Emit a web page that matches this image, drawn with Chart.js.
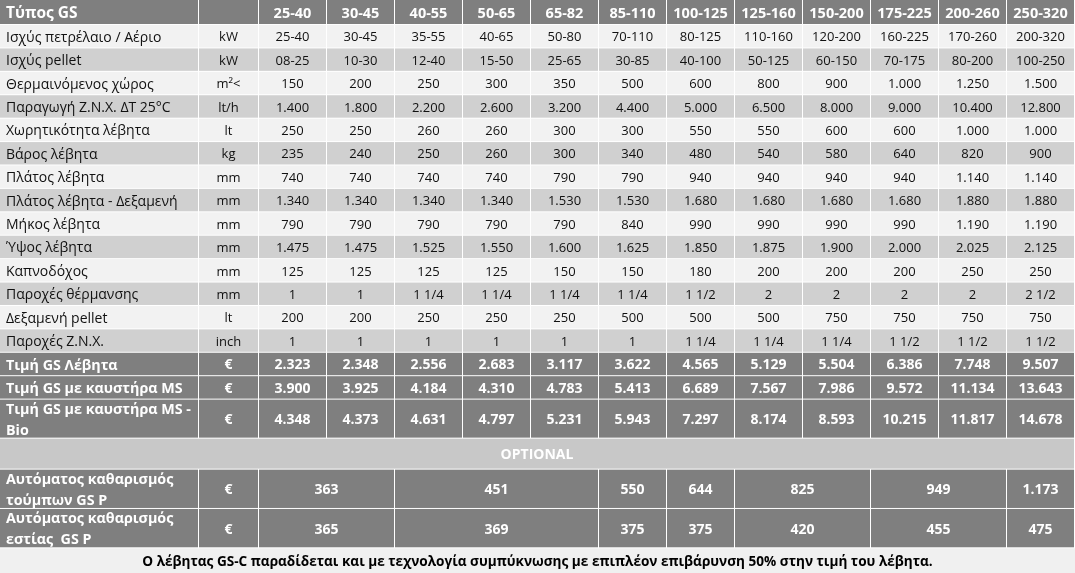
<!DOCTYPE html>
<html>
<head>
<meta charset="utf-8">
<title>GS</title>
<script src="https://cdn.jsdelivr.net/npm/chart.js@4.4.1/dist/chart.umd.min.js"></script>
<style>
  html, body { margin: 0; padding: 0; background: #ffffff; }
  #wrap { width: 1075px; height: 573px; }
</style>
</head>
<body>
<div id="wrap"><canvas id="specTable" width="1075" height="573"></canvas></div>
<script>
// ---- data read from the price list ----
const headerLabel = 'Τύπος GS';
const models = ['25-40', '30-45', '40-55', '50-65', '65-82', '85-110', '100-125', '125-160', '150-200', '175-225', '200-260', '250-320'];

const specLabels = [
    'Ισχύς πετρέλαιο / Αέριο', 'Ισχύς pellet', 'Θερμαινόμενος χώρος', 'Παραγωγή Ζ.Ν.Χ. ΔΤ 25°C',
    'Χωρητικότητα λέβητα', 'Βάρος λέβητα', 'Πλάτος λέβητα', 'Πλάτος λέβητα - Δεξαμενή',
    'Μήκος λέβητα', 'Ύψος λέβητα', 'Καπνοδόχος', 'Παροχές θέρμανσης', 'Δεξαμενή pellet', 'Παροχές Ζ.Ν.Χ.'
];
const specUnits = ['kW', 'kW', 'm²<', 'lt/h', 'lt', 'kg', 'mm', 'mm', 'mm', 'mm', 'mm', 'mm', 'lt', 'inch'];
const specValues = [
    ['25-40', '30-45', '35-55', '40-65', '50-80', '70-110', '80-125', '110-160', '120-200', '160-225', '170-260', '200-320'],
    ['08-25', '10-30', '12-40', '15-50', '25-65', '30-85', '40-100', '50-125', '60-150', '70-175', '80-200', '100-250'],
    ['150', '200', '250', '300', '350', '500', '600', '800', '900', '1.000', '1.250', '1.500'],
    ['1.400', '1.800', '2.200', '2.600', '3.200', '4.400', '5.000', '6.500', '8.000', '9.000', '10.400', '12.800'],
    ['250', '250', '260', '260', '300', '300', '550', '550', '600', '600', '1.000', '1.000'],
    ['235', '240', '250', '260', '300', '340', '480', '540', '580', '640', '820', '900'],
    ['740', '740', '740', '740', '790', '790', '940', '940', '940', '940', '1.140', '1.140'],
    ['1.340', '1.340', '1.340', '1.340', '1.530', '1.530', '1.680', '1.680', '1.680', '1.680', '1.880', '1.880'],
    ['790', '790', '790', '790', '790', '840', '990', '990', '990', '990', '1.190', '1.190'],
    ['1.475', '1.475', '1.525', '1.550', '1.600', '1.625', '1.850', '1.875', '1.900', '2.000', '2.025', '2.125'],
    ['125', '125', '125', '125', '150', '150', '180', '200', '200', '200', '250', '250'],
    ['1', '1', '1 1/4', '1 1/4', '1 1/4', '1 1/4', '1 1/2', '2', '2', '2', '2', '2 1/2'],
    ['200', '200', '250', '250', '250', '500', '500', '500', '750', '750', '750', '750'],
    ['1', '1', '1', '1', '1', '1', '1 1/4', '1 1/4', '1 1/4', '1 1/2', '1 1/2', '1 1/2']
];

const priceLabels = ['Τιμή GS Λέβητα', 'Τιμή GS με καυστήρα MS', 'Τιμή GS με καυστήρα MS -\nBio'];
const priceValues = [
    ['2.323', '2.348', '2.556', '2.683', '3.117', '3.622', '4.565', '5.129', '5.504', '6.386', '7.748', '9.507'],
    ['3.900', '3.925', '4.184', '4.310', '4.783', '5.413', '6.689', '7.567', '7.986', '9.572', '11.134', '13.643'],
    ['4.348', '4.373', '4.631', '4.797', '5.231', '5.943', '7.297', '8.174', '8.593', '10.215', '11.817', '14.678']
];

const optionalTitle = 'OPTIONAL';
const optionalLabels = ['Αυτόματος καθαρισμός\nτούμπων GS P', 'Αυτόματος καθαρισμός\nεστίας  GS P'];
const optionalValues = [
    ['363', '451', '550', '644', '825', '949', '1.173'],
    ['365', '369', '375', '375', '420', '455', '475']
];
// how many model columns each optional price covers
const optionalSpans = [2, 3, 1, 1, 2, 2, 1];

const footNote = 'Ο λέβητας GS-C παραδίδεται και με τεχνολογία συμπύκνωσης με επιπλέον επιβάρυνση 50% στην τιμή του λέβητα.';

// ---- layout ----
const FONT = '"Open Sans", "Noto Sans", sans-serif';
const colWidths = [199, 60].concat(models.map(() => 68));
const colEdges = [0];
colWidths.forEach(w => colEdges.push(colEdges[colEdges.length - 1] + w));

const rows = [];
rows.push({ kind: 'header', h: 25, label: headerLabel, unit: '', values: models });
specLabels.forEach((label, i) => {
    rows.push({ kind: i % 2 === 0 ? 'light' : 'mid', h: 23.4, label: label, unit: specUnits[i], values: specValues[i] });
});
priceLabels.forEach((label, i) => {
    rows.push({ kind: 'price', h: i === 2 ? 39 : 23.4, label: label, unit: '€', values: priceValues[i] });
});
rows.push({ kind: 'section', h: 31, label: optionalTitle });
optionalLabels.forEach((label, i) => {
    rows.push({ kind: 'price', h: 39.3, label: label, unit: '€', values: optionalValues[i], spans: optionalSpans });
});
rows.push({ kind: 'note', h: 24.7, label: footNote });

const totalW = colEdges[colEdges.length - 1];
const totalH = rows.reduce((s, r) => s + r.h, 0);

// label / value font sizes per row kind
const styles = {
    header:  { bg: '#7f7f7f', color: '#ffffff', bold: true,  labelSize: 15.5, size: 14.5 },
    light:   { bg: '#f2f2f2', color: '#111111', bold: false, labelSize: 14,   size: 13 },
    mid:     { bg: '#d0d0d0', color: '#111111', bold: false, labelSize: 14,   size: 13 },
    price:   { bg: '#7f7f7f', color: '#ffffff', bold: true,  labelSize: 14.3, size: 14 },
    section: { bg: '#c8c8c8', color: '#ffffff', bold: true,  labelSize: 14,   size: 14 },
    note:    { bg: '#f0f0f0', color: '#000000', bold: true,  labelSize: 13.6, size: 13.6 }
};

// draws the whole grid on the chart's own x / y scales
const tablePlugin = {
    id: 'tableCells',
    afterDraw(chart) {
        const { ctx, scales: { x, y } } = chart;
        const px = v => x.getPixelForValue(v);
        const py = v => y.getPixelForValue(v);

        ctx.save();
        ctx.fillStyle = '#ffffff';
        ctx.fillRect(px(0), py(0), px(totalW) - px(0), py(totalH) - py(0));
        ctx.textBaseline = 'middle';

        function cell(c0, c1, top, bottom, text, st, size, align, border) {
            const x0 = px(colEdges[c0]), x1 = px(colEdges[c1]);
            const y0 = py(top), y1 = py(bottom);
            const gap = border ? 1 : 0;
            ctx.fillStyle = st.bg;
            ctx.fillRect(x0, y0, x1 - x0 - gap, y1 - y0 - gap);
            if (!text) return;
            ctx.fillStyle = st.color;
            ctx.font = (st.bold ? 'bold ' : '') + size + 'px ' + FONT;
            ctx.textAlign = align;
            const lines = text.split('\n');
            const lh = 21;
            const cy = (y0 + y1 - gap) / 2 + 1.5;
            const tx = align === 'left' ? x0 + 6 : (x0 + x1 - gap) / 2;
            lines.forEach((ln, k) => {
                ctx.fillText(ln, tx, cy + (k - (lines.length - 1) / 2) * lh);
            });
        }

        let top = 0;
        rows.forEach(r => {
            const bottom = top + r.h;
            const st = styles[r.kind];
            const last = colEdges.length - 1;
            if (r.kind === 'section') {
                cell(0, last, top, bottom, r.label, st, st.size, 'center', true);
            } else if (r.kind === 'note') {
                cell(0, last, top, bottom, r.label, st, st.size, 'center', false);
            } else {
                cell(0, 1, top, bottom, r.label, st, st.labelSize, 'left', true);
                cell(1, 2, top, bottom, r.unit, st, st.size, 'center', true);
                let c = 2;
                r.values.forEach((v, k) => {
                    const span = r.spans ? r.spans[k] : 1;
                    cell(c, c + span, top, bottom, v, st, st.size, 'center', true);
                    c += span;
                });
            }
            top = bottom;
        });
        ctx.restore();
    }
};

new Chart(document.getElementById('specTable').getContext('2d'), {
    type: 'scatter',
    data: { datasets: [] },
    options: {
        responsive: false,
        animation: false,
        devicePixelRatio: 1,
        layout: { padding: 0 },
        plugins: { legend: { display: false }, tooltip: { enabled: false } },
        scales: {
            x: { type: 'linear', min: 0, max: totalW, display: false },
            y: { type: 'linear', min: 0, max: totalH, reverse: true, display: false }
        }
    },
    plugins: [tablePlugin]
});
</script>
</body>
</html>
